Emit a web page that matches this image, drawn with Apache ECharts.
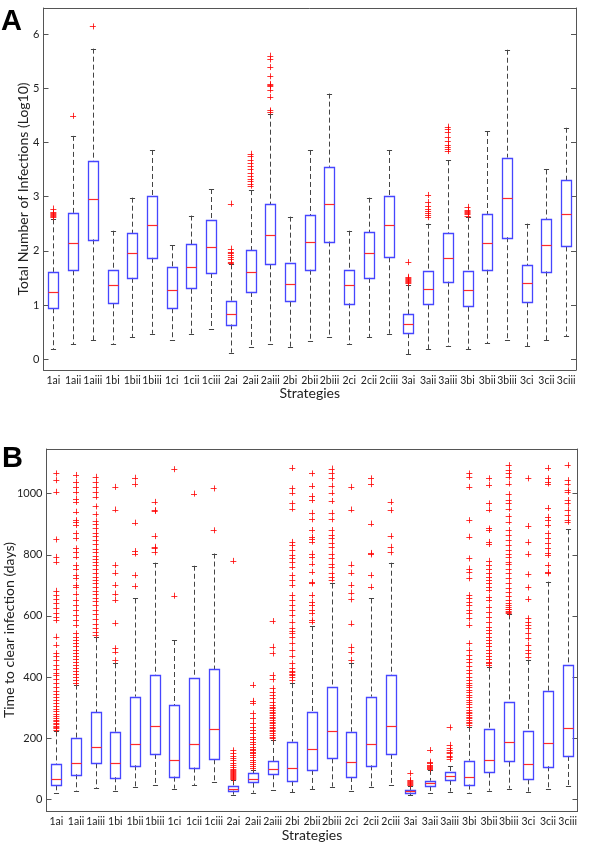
<!DOCTYPE html>
<html>
<head>
<meta charset="utf-8">
<script src="https://cdn.jsdelivr.net/npm/echarts@6/dist/echarts.min.js"></script>
<style>html,body{margin:0;padding:0;background:#fff;}#c{width:600px;height:853px;}</style>
</head>
<body>
<div id="c"></div>
<script>
const categories = ['1ai','1aii','1aiii','1bi','1bii','1biii','1ci','1cii','1ciii','2ai','2aii','2aiii','2bi','2bii','2biii','2ci','2cii','2ciii','3ai','3aii','3aiii','3bi','3bii','3biii','3ci','3cii','3ciii'];

// Panel A: Total number of infections (log10)
const aLow  = [0.18,0.28,0.35,0.28,0.41,0.47,0.35,0.47,0.55,0.12,0.22,0.28,0.22,0.33,0.41,0.28,0.41,0.47,0.09,0.18,0.24,0.18,0.29,0.35,0.24,0.35,0.42];
const aQ1   = [0.94,1.64,2.21,1.03,1.50,1.87,0.94,1.30,1.59,0.64,1.24,1.75,1.06,1.65,2.17,1.03,1.50,1.88,0.48,1.01,1.43,0.97,1.65,2.25,1.05,1.62,2.08];
const aMed  = [1.24,2.15,2.96,1.36,1.96,2.47,1.27,1.70,2.07,0.84,1.60,2.29,1.38,2.17,2.86,1.36,1.96,2.47,0.65,1.30,1.86,1.27,2.15,2.97,1.40,2.10,2.67];
const aQ3   = [1.61,2.70,3.66,1.64,2.33,3.01,1.70,2.12,2.56,1.08,2.01,2.86,1.77,2.66,3.55,1.65,2.34,3.01,0.83,1.62,2.33,1.62,2.68,3.72,1.73,2.59,3.30];
const aHigh = [2.58,4.12,5.73,2.37,2.98,3.86,2.10,2.65,3.14,1.75,3.12,4.53,2.63,3.86,4.90,2.37,2.98,3.86,1.36,2.50,3.67,2.63,4.21,5.71,2.50,3.50,4.27];
const aOutliers = [
  [2.62,2.64,2.66,2.67,2.69,2.72,2.78],
  [4.49],
  [6.14],
  [],[],[],[],[],[],
  [1.77,1.80,1.84,1.88,1.92,1.95,1.98,2.04,2.87],
  [3.20,3.24,3.28,3.33,3.38,3.44,3.50,3.56,3.62,3.68,3.74,3.79],
  [4.57,4.59,4.84,4.97,5.04,5.06,5.08,5.22,5.39,5.53,5.60],
  [],[],[],[],[],[],
  [1.40,1.42,1.44,1.46,1.48,1.50,1.52,1.79],
  [2.62,2.66,2.70,2.74,2.78,2.82,2.90,3.03],
  [3.84,3.88,3.92,3.96,4.02,4.10,4.20,4.25,4.29],
  [2.65,2.68,2.70,2.72,2.74,2.76,2.81],
  [],[],[],[],[]
];
const aTicks = [0,1,2,3,4,5,6];

// Panel B: Time to clear infection (days)
const bLow  = [19.6,28.3,36,28.3,40,48,35,47,56.7,15.3,21.8,30.5,22.9,33.8,41.4,28.3,40,48,14,20.7,25,20.7,28.3,35,25,35,44.7];
const bQ1   = [45.8,81.8,117.7,72,111,148.3,74,103.6,130.8,28.3,54.5,81.8,60,96,134,73,111,148.3,21.8,43.6,63.2,48,87,123,65.4,108,141.7];
const bMed  = [65.4,120,170,120,181,238.8,128.6,180,230,32.7,65.4,98,103.6,164.6,223.5,121,181,238.8,26,52,77.4,72,128.6,186,114.5,183,232];
const bQ3   = [115.6,201.7,284.5,221,335.8,406.6,308.5,398,426,43.6,85,125.4,188.6,284.5,366.3,221,335.8,406.6,30.5,61,90.5,126.5,229,317,222,355.4,440.4];
const bHigh = [222,375,530,445,657,774,521,764,804,62,96,194,380,567,706,445,657,774,43.6,96,109,237,434,605,456,712,883];
const bOutliers = [
  [228,232,236,240,245,250,255,260,266,272,280,288,296,305,315,325,335,345,355,368,380,395,405,412,425,440,455,470,478,505,532,586,597,608,626,641,655,668,682,777,793,850,1006,1044,1066],
  [380,390,400,410,420,430,440,450,460,470,480,490,500,510,520,530,543,570,586,603,619,636,652,673,695,701,723,733,755,766,794,810,821,854,870,897,908,913,941,973,984,1006,1022,1039,1061],
  [537,548,560,575,590,605,620,635,648,660,672,683,695,706,716,728,740,752,765,776,786,795,810,820,835,848,860,872,886,900,910,932,958,990,1005,1022,1038,1055],
  [455,483,494,576,652,673,701,741,766,948,1022],
  [697,733,804,812,905,1031,1052],
  [808,821,826,861,943,946,973],
  [666,1080],
  [1000],
  [880,1017],
  [65,68,72,75,78,82,85,88,92,95,100,105,112,120,128,135,142,150,160,780],
  [102,108,115,123,130,139,145,150,155,161,166,172,180,189,197,205,216,227,237,248,265,281,316,322,374],
  [199,205,210,216,222,227,232,238,243,248,254,259,265,270,276,281,287,292,298,303,310,319,330,341,352,363,392,406,477,499,583],
  [390,400,405,410,415,420,430,445,470,490,510,530,543,550,560,581,603,619,636,652,668,701,717,733,760,777,788,799,816,832,842,951,968,1003,1017,1084],
  [581,586,608,619,636,646,668,706,711,744,771,793,804,843,853,859,881,916,937,979,992,1025,1066],
  [719,728,739,760,771,790,804,824,840,856,865,881,916,937,976,1003,1026,1050,1066,1082],
  [456,483,499,575,654,676,701,741,768,948,1022],
  [695,733,801,806,902,1031,1050],
  [808,826,861,946,973],
  [47,50,53,56,60,63,85],
  [98,102,105,108,112,118,123,161],
  [132,138,143,150,155,160,167,178,235],
  [243,249,254,259,265,270,276,281,287,292,302,312,318,325,333,341,350,358,366,374,382,390,400,412,423,437,450,460,472,488,510,570,592,608,619,636,646,657,668,723,744,755,788,859,913,1022,1055,1066],
  [440,445,450,460,470,480,490,500,510,520,530,543,554,564,581,597,613,630,652,662,684,695,706,717,728,739,752,766,780,835,842,881,886,948,968,1028,1050],
  [608,612,617,622,624,630,636,643,652,665,679,690,706,723,739,755,771,777,793,804,815,832,848,865,881,908,926,951,968,979,998,1033,1055,1066,1077,1093],
  [467,480,490,505,527,545,559,570,581,592,655,693,736,802,841,894,1050],
  [739,744,766,799,806,821,837,854,870,897,913,924,953,1033,1039,1050,1084],
  [908,913,930,948,968,979,1006,1011,1033,1044,1093]
];
const bTicks = [0,200,400,600,800,1000];

const FONT = 'Lato';
const AXIS_COLOR = '#555';
const BOX_COLOR = '#4646ff';
const MED_COLOR = '#ff2a2a';
const WHISK_COLOR = '#444';
const OUT_COLOR = 'rgba(255,0,0,0.8)';

function boxData(low,q1,med,q3,high){
  return categories.map((c,i)=>[i,low[i],q1[i],med[i],q3[i],high[i]]);
}
function outData(outs){
  const d=[];
  outs.forEach((arr,i)=>arr.forEach(v=>d.push([i,v])));
  return d;
}

function renderBox(params, api){
  const x = api.value(0);
  const pLow = api.coord([x, api.value(1)]);
  const pQ1 = api.coord([x, api.value(2)]);
  const pMed = api.coord([x, api.value(3)]);
  const pQ3 = api.coord([x, api.value(4)]);
  const pHigh = api.coord([x, api.value(5)]);
  const band = api.size([1,0])[0];
  const hw = band*0.265;
  const cw = band*0.13;
  const cx = Math.round(pLow[0]) + 0.5;
  const r = v => Math.round(v)+0.5;
  const dash = {stroke: WHISK_COLOR, lineWidth: 1, lineDash:[5,3]};
  const solid = {stroke: WHISK_COLOR, lineWidth: 1};
  return {type:'group', children:[
    {type:'line', shape:{x1:cx,y1:pHigh[1],x2:cx,y2:pQ3[1]}, style:dash},
    {type:'line', shape:{x1:cx,y1:pQ1[1],x2:cx,y2:pLow[1]}, style:dash},
    {type:'line', shape:{x1:cx-cw,y1:r(pHigh[1]),x2:cx+cw,y2:r(pHigh[1])}, style:solid},
    {type:'line', shape:{x1:cx-cw,y1:r(pLow[1]),x2:cx+cw,y2:r(pLow[1])}, style:solid},
    {type:'rect', shape:{x:r(cx-hw),y:r(pQ3[1]),width:Math.round(2*hw),height:Math.round(pQ1[1]-pQ3[1])}, style:{fill:'none',stroke:BOX_COLOR,lineWidth:1.3}},
    {type:'line', shape:{x1:r(cx-hw),y1:r(pMed[1]),x2:r(cx-hw)+Math.round(2*hw),y2:r(pMed[1])}, style:{stroke:MED_COLOR,lineWidth:1.2}}
  ]};
}
function renderPlus(params, api){
  const p = api.coord([api.value(0), api.value(1)]);
  const s = 3;
  const st = {stroke: OUT_COLOR, lineWidth: 1};
  return {type:'group', children:[
    {type:'line', shape:{x1:p[0]-s,y1:Math.round(p[1])+0.5,x2:p[0]+s,y2:Math.round(p[1])+0.5}, style:st},
    {type:'line', shape:{x1:Math.round(p[0])+0.5,y1:p[1]-s,x2:Math.round(p[0])+0.5,y2:p[1]+s}, style:st}
  ]};
}

function xAxes(g){
  return [
    {gridIndex:g, type:'category', data:categories, position:'bottom',
     axisLine:{onZero:false, lineStyle:{color:AXIS_COLOR}}, axisTick:{show:false},
     axisLabel:{interval:0, fontSize:10.5, color:'#222', margin:5, fontFamily:FONT},
     name:'Strategies', nameLocation:'middle', nameGap:16,
     nameTextStyle:{fontSize:14, color:'#222', fontFamily:FONT}},
    {gridIndex:g, type:'category', data:categories, position:'top',
     axisLine:{onZero:false, lineStyle:{color:AXIS_COLOR}},
     axisTick:{inside:true, length:5, alignWithLabel:true, lineStyle:{color:AXIS_COLOR}},
     axisLabel:{show:false}}
  ];
}
function yAxes(g, min, max, ticks){
  return [
    {gridIndex:g, type:'value', position:'left', min:min, max:max,
     axisLine:{show:true, onZero:false, lineStyle:{color:AXIS_COLOR}},
     axisTick:{show:true, inside:true, length:5, customValues:ticks, lineStyle:{color:AXIS_COLOR}},
     axisLabel:{customValues:ticks, fontSize:11, color:'#222', margin:4, fontFamily:FONT, formatter:v=>String(v)},
     splitLine:{show:false}},
    {gridIndex:g, type:'value', position:'right', min:min, max:max,
     axisLine:{show:true, onZero:false, lineStyle:{color:AXIS_COLOR}},
     axisTick:{show:true, inside:true, length:5, customValues:ticks, lineStyle:{color:AXIS_COLOR}},
     axisLabel:{show:false}, splitLine:{show:false}}
  ];
}

const chart = echarts.init(document.getElementById('c'), null, {renderer:'canvas'});
chart.setOption({
  animation:false,
  backgroundColor:'#fff',
  grid:[
    {left:43.5, right:24, top:8, bottom:483},
    {left:46.5, right:22.5, top:449, bottom:41.5}
  ],
  xAxis:[...xAxes(0), ...xAxes(1)],
  yAxis:[
    ...yAxes(0, -0.2, 6.48, aTicks),
    ...yAxes(1, -40, 1146, bTicks)
  ],
  graphic:[
    {type:'text', left:1, top:7, style:{text:'A', font:'bold 29px "Liberation Sans", Arial, sans-serif', fill:'#000'}},
    {type:'text', left:2, top:444, style:{text:'B', font:'bold 29px "Liberation Sans", Arial, sans-serif', fill:'#000'}},
    {type:'text', x:23, y:189, rotation:Math.PI/2,
     style:{text:'Total Number of Infections (Log10)', align:'center', verticalAlign:'middle', font:'14px Lato', fill:'#222'}},
    {type:'text', x:9, y:630, rotation:Math.PI/2,
     style:{text:'Time to clear infection (days)', align:'center', verticalAlign:'middle', font:'14px Lato', fill:'#222'}}
  ],
  series:[
    {type:'custom', xAxisIndex:0, yAxisIndex:0, renderItem:renderBox, data:boxData(aLow,aQ1,aMed,aQ3,aHigh), encode:{x:0,y:[1,2,3,4,5]}},
    {type:'custom', xAxisIndex:0, yAxisIndex:0, renderItem:renderPlus, data:outData(aOutliers), encode:{x:0,y:1}},
    {type:'custom', xAxisIndex:2, yAxisIndex:2, renderItem:renderBox, data:boxData(bLow,bQ1,bMed,bQ3,bHigh), encode:{x:0,y:[1,2,3,4,5]}},
    {type:'custom', xAxisIndex:2, yAxisIndex:2, renderItem:renderPlus, data:outData(bOutliers), encode:{x:0,y:1}}
  ]
});
</script>
</body>
</html>
